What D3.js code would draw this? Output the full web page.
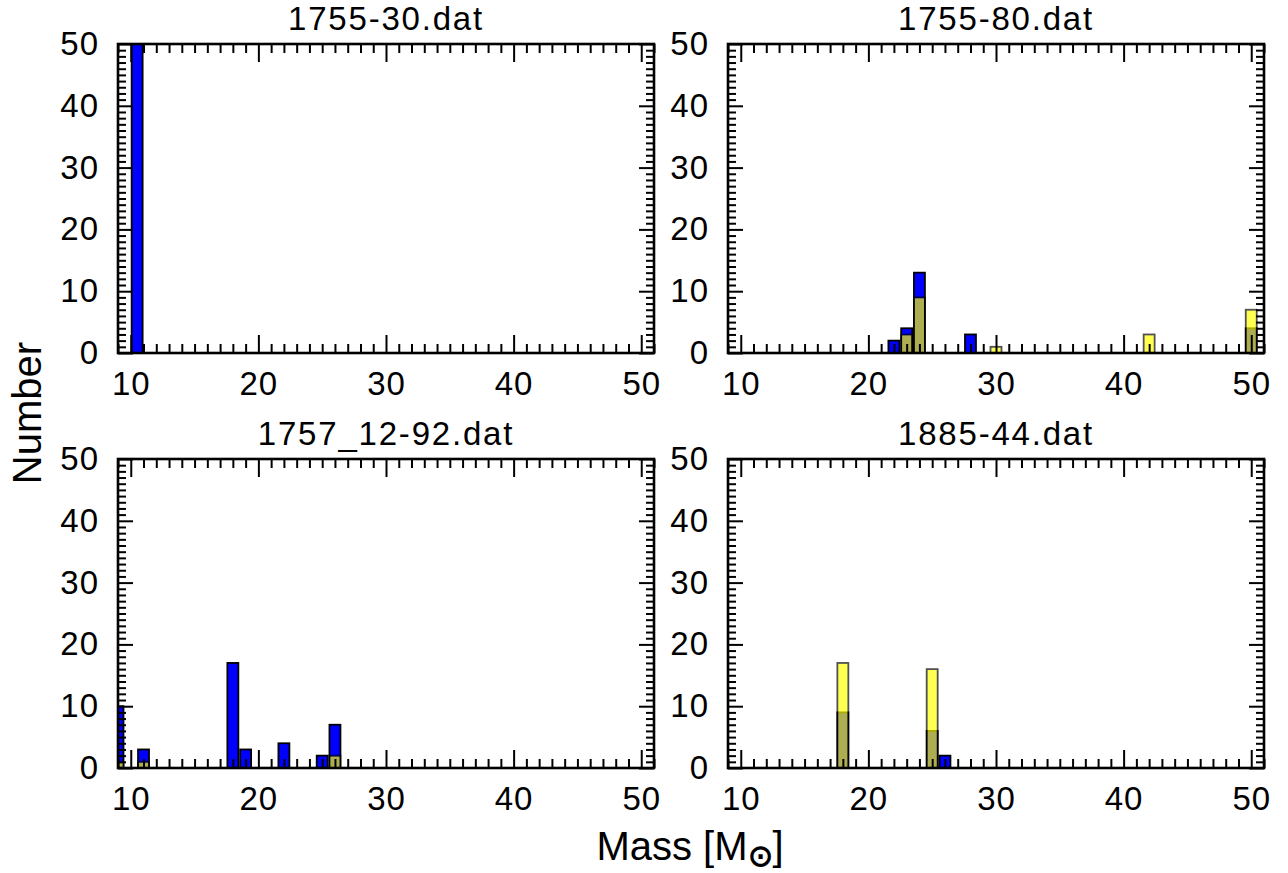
<!DOCTYPE html>
<html>
<head>
<meta charset="utf-8">
<script src="https://cdn.jsdelivr.net/npm/d3@7"></script>
<style>
  html, body { margin: 0; padding: 0; background: #fff; }
  svg { display: block; font-family: "Liberation Sans", Arial, Helvetica, sans-serif; }
</style>
</head>
<body>
<svg id="chart" width="1288" height="873"></svg>
<script>
// ---- data ----
const panelTitles = ["1755-30.dat", "1755-80.dat", "1757_12-92.dat", "1885-44.dat"];
const blueMass   = [[10.5], [22, 23, 24, 28, 50], [9, 11, 18, 19, 22, 25, 26], [18, 25, 26]];
const blueCount  = [[55],   [2, 4, 13, 3, 4],     [10, 3, 17, 3, 4, 2, 7],     [9, 6, 2]];
const yellowMass  = [[], [23, 24, 30, 42, 50], [9, 11, 26], [18, 25]];
const yellowCount = [[], [3, 9, 1, 3, 7],      [1, 1, 2],   [17, 16]];
const xMajorTicks = [10, 20, 30, 40, 50];
const yMajorTicks = [0, 10, 20, 30, 40, 50];
const xDomain = [9, 51];
const yDomain = [0, 50];
const xLabel = "Mass [M";
const xLabelSub = "\u2299";
const yLabel = "Number";

// ---- layout ----
const svg = d3.select("#chart");
const panelW = 536, panelH = 309;
const panelX = [118, 728, 118, 728];
const panelY = [44, 44, 459, 459];
const barW = 0.86;
const tickFont = 33, titleFont = 33, labelFont = 40;

const x = d3.scaleLinear().domain(xDomain).range([0, panelW]);
const y = d3.scaleLinear().domain(yDomain).range([panelH, 0]);
const xMinor = d3.range(xDomain[0], xDomain[1] + 1).filter(v => !xMajorTicks.includes(v));
const yMinor = d3.range(yDomain[0], yDomain[1] + 1).filter(v => !yMajorTicks.includes(v));

const defs = svg.append("defs");
defs.append("clipPath").attr("id", "plotclip")
  .append("rect").attr("x", 0).attr("y", 0).attr("width", panelW).attr("height", panelH);

panelTitles.forEach((title, i) => {
  const g = svg.append("g").attr("transform", `translate(${panelX[i]},${panelY[i]})`);
  const bars = g.append("g").attr("clip-path", "url(#plotclip)");

  const blue = blueMass[i].map((m, j) => ({m, c: blueCount[i][j]}));
  const yel = yellowMass[i].map((m, j) => ({m, c: yellowCount[i][j]}));

  bars.selectAll("rect.blue").data(blue).join("rect")
    .attr("class", "blue")
    .attr("x", d => x(d.m - barW / 2))
    .attr("width", d => x(d.m + barW / 2) - x(d.m - barW / 2))
    .attr("y", d => y(d.c))
    .attr("height", d => y(0) - y(d.c))
    .attr("fill", "#0000ff")
    .attr("stroke", "#000")
    .attr("stroke-width", 1.8);

  bars.append("g").attr("opacity", 0.68)
    .selectAll("rect").data(yel).join("rect")
    .attr("x", d => x(d.m - barW / 2))
    .attr("width", d => x(d.m + barW / 2) - x(d.m - barW / 2))
    .attr("y", d => y(d.c))
    .attr("height", d => y(0) - y(d.c))
    .attr("fill", "#ffff00")
    .attr("stroke", "#000")
    .attr("stroke-width", 1.8);

  // axes (inward ticks on all four sides)
  const styleAxis = sel => {
    sel.select(".domain").remove();
    sel.selectAll(".tick line").attr("stroke", "#000").attr("stroke-width", 2);
    sel.selectAll(".tick text").attr("font-size", tickFont).attr("fill", "#000")
      .attr("letter-spacing", 1)
      .attr("font-family", "'Liberation Sans', Arial, Helvetica, sans-serif");
  };
  // bottom
  g.append("g").attr("transform", `translate(0,${panelH})`)
    .call(d3.axisBottom(x).tickValues(xMinor).tickSize(-9).tickFormat(""))
    .call(styleAxis);
  g.append("g").attr("transform", `translate(0,${panelH})`)
    .call(d3.axisBottom(x).tickValues(xMajorTicks).tickSize(-18).tickPadding(19).tickFormat(d3.format("d")))
    .call(styleAxis);
  // top
  g.append("g")
    .call(d3.axisTop(x).tickValues(xMinor).tickSize(-9).tickFormat(""))
    .call(styleAxis);
  g.append("g")
    .call(d3.axisTop(x).tickValues(xMajorTicks).tickSize(-18).tickFormat(""))
    .call(styleAxis);
  // left
  g.append("g")
    .call(d3.axisLeft(y).tickValues(yMinor).tickSize(-8).tickFormat(""))
    .call(styleAxis);
  g.append("g")
    .call(d3.axisLeft(y).tickValues(yMajorTicks).tickSize(-15).tickPadding(19).tickFormat(d3.format("d")))
    .call(styleAxis);
  // right
  g.append("g").attr("transform", `translate(${panelW},0)`)
    .call(d3.axisRight(y).tickValues(yMinor).tickSize(-8).tickFormat(""))
    .call(styleAxis);
  g.append("g").attr("transform", `translate(${panelW},0)`)
    .call(d3.axisRight(y).tickValues(yMajorTicks).tickSize(-15).tickFormat(""))
    .call(styleAxis);

  // frame
  g.append("rect").attr("x", 0).attr("y", 0).attr("width", panelW).attr("height", panelH)
    .attr("fill", "none").attr("stroke", "#000").attr("stroke-width", 2.6);

  // title
  g.append("text").attr("x", panelW / 2).attr("y", -14)
    .attr("text-anchor", "middle").attr("font-size", titleFont).attr("fill", "#000")
    .attr("letter-spacing", 1.8)
    .text(title);
});

// axis labels
const xl = svg.append("text").attr("x", 690).attr("y", 860)
  .attr("text-anchor", "middle").attr("font-size", labelFont).attr("fill", "#000");
xl.append("tspan").text(xLabel);
xl.append("tspan").attr("font-size", labelFont * 0.75).attr("font-weight", "bold").attr("dy", 6).text(xLabelSub);
xl.append("tspan").attr("dy", -6).text("]");

svg.append("text").attr("transform", "translate(41,413) rotate(-90)")
  .attr("text-anchor", "middle").attr("font-size", labelFont).attr("fill", "#000")
  .text(yLabel);
</script>
</body>
</html>
